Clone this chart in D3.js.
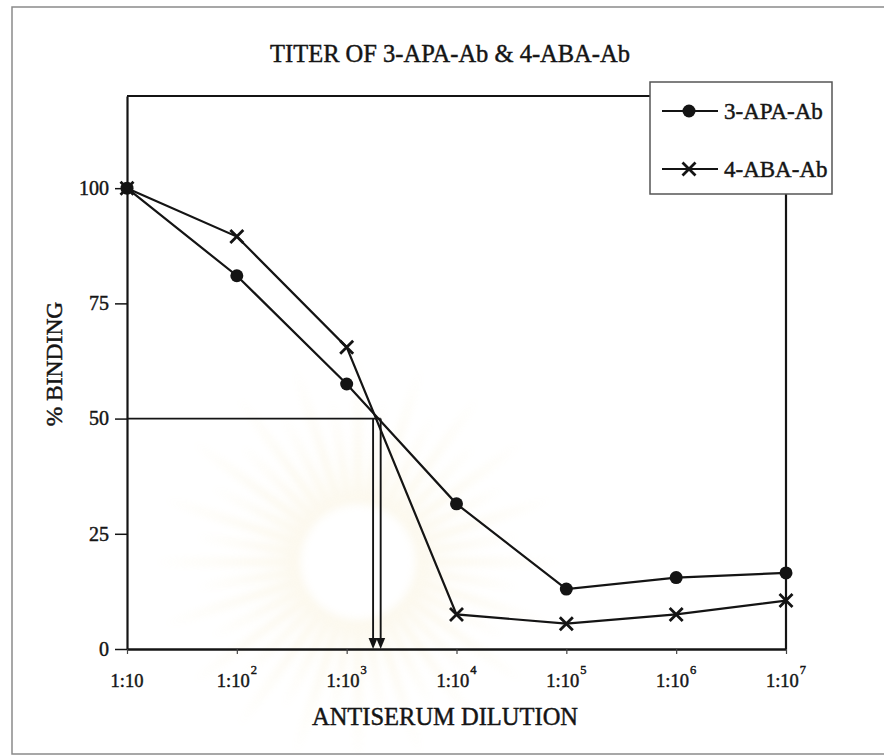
<!DOCTYPE html>
<html>
<head>
<meta charset="utf-8">
<script src="https://cdn.jsdelivr.net/npm/d3@7"></script>
<style>
  html, body { margin: 0; padding: 0; background: #fff; }
  svg { display: block; }
  text { font-family: "Liberation Serif", "Times New Roman", serif; fill: #151515; stroke: #151515; stroke-width: 0.45px; }
</style>
</head>
<body>
<svg id="chart" width="884" height="756"></svg>
<script>
// Antiserum dilution factors (1:10 ... 1:10^7)
const dilutions = [1e1, 1e2, 1e3, 1e4, 1e5, 1e6, 1e7];
const dilutionExponents = ["", "2", "3", "4", "5", "6", "7"];
// % binding for each antiserum
const apaBinding = [100, 81, 57.5, 31.5, 13, 15.5, 16.5];
const abaBinding = [100, 89.5, 65.5, 7.5, 5.5, 7.5, 10.5];
// Titers read at 50 % binding (dilution factors)
const titerDilutions = [1740, 2040];
const halfBinding = 50;
const yTicks = [0, 25, 50, 75, 100];
const seriesNames = ["3-APA-Ab", "4-ABA-Ab"];

const svg = d3.select("#chart");
const ink = "#141414";

// Faint sunburst emblem printed behind the plot
const defs = svg.append("defs");
defs.append("filter").attr("id", "soft")
  .append("feGaussianBlur").attr("stdDeviation", 4);
const emblem = svg.append("g")
  .attr("transform", "translate(358,562)")
  .attr("filter", "url(#soft)")
  .attr("opacity", 0.32);
const rays = d3.range(40);
emblem.selectAll("path.ray").data(rays).join("path")
  .attr("class", "ray")
  .attr("d", i => {
    const a = (i / rays.length) * 2 * Math.PI;
    const w = 0.05;
    const r0 = 58, r1 = i % 2 ? 165 : 205;
    const p = (r, t) => [r * Math.cos(t), r * Math.sin(t)];
    const [x0, y0] = p(r0, a - w), [x1, y1] = p(r1, a), [x2, y2] = p(r0, a + w);
    return `M${x0},${y0}L${x1},${y1}L${x2},${y2}Z`;
  })
  .attr("fill", "#efdca0");

// Outer page frame
svg.append("path")
  .attr("d", "M884,7H12V754H884")
  .attr("fill", "none").attr("stroke", "#8a8a8a").attr("stroke-width", 1.5);

// Scales
const x = d3.scaleLog().domain([1e1, 1e7]).range([127, 786]);
const y = d3.scaleLinear().domain([0, 120]).range([649, 96]);

// Title
svg.append("text")
  .attr("x", 450).attr("y", 62)
  .attr("text-anchor", "middle")
  .attr("font-size", 24.5)
  .text("TITER OF 3-APA-Ab & 4-ABA-Ab");

// Y axis (left edge of plot frame)
const yAxis = svg.append("g")
  .attr("transform", `translate(${x.range()[0]},0)`)
  .call(d3.axisLeft(y).tickValues(yTicks).tickSizeInner(12).tickSizeOuter(0).tickPadding(6));
yAxis.select(".domain").attr("stroke", ink).attr("stroke-width", 2.2);
yAxis.selectAll(".tick line").attr("stroke", ink).attr("stroke-width", 1.5);
yAxis.selectAll(".tick text")
  .attr("font-size", 20).attr("font-family", "Liberation Serif").attr("fill", ink);

// X axis with 1:10^n labels
const xAxis = svg.append("g")
  .attr("transform", `translate(0,${y(0)})`)
  .call(d3.axisBottom(x).tickValues(dilutions).tickSizeInner(5).tickSizeOuter(0)
    .tickFormat(() => ""));
xAxis.select(".domain").attr("stroke", ink).attr("stroke-width", 2.6);
xAxis.selectAll(".tick line").attr("stroke", "#444").attr("stroke-width", 1.2);
xAxis.selectAll(".tick text").remove();
const xLabels = svg.append("g").selectAll("text").data(dilutions).join("text")
  .attr("x", d => x(d))
  .attr("y", 687)
  .attr("font-size", 18.5)
  .attr("text-anchor", "middle");
xLabels.append("tspan").text("1:10");
xLabels.append("tspan")
  .attr("font-size", 12.5)
  .attr("dx", 1)
  .attr("dy", -13)
  .text((d, i) => dilutionExponents[i]);

// Axis titles
svg.append("text")
  .attr("x", 445).attr("y", 725)
  .attr("text-anchor", "middle")
  .attr("font-size", 24.5)
  .text("ANTISERUM DILUTION");
svg.append("text")
  .attr("transform", "translate(62,364) rotate(-90)")
  .attr("text-anchor", "middle")
  .attr("font-size", 23.5)
  .text("% BINDING");

// Legend box and remaining frame sides
const legend = { x0: 650, x1: 832, y0: 82, y1: 194 };
svg.append("path")
  .attr("d", `M${x.range()[0]},${y.range()[1]}H${legend.x0}`)
  .attr("stroke", ink).attr("stroke-width", 2.2).attr("fill", "none");
svg.append("path")
  .attr("d", `M${x.range()[1]},${legend.y1}V${y(0)}`)
  .attr("stroke", ink).attr("stroke-width", 2.2).attr("fill", "none");
svg.append("rect")
  .attr("x", legend.x0).attr("y", legend.y0)
  .attr("width", legend.x1 - legend.x0).attr("height", legend.y1 - legend.y0)
  .attr("fill", "#fff").attr("stroke", "#555").attr("stroke-width", 1.5);

// 50 % binding guide and titer arrows
svg.append("line")
  .attr("x1", x.range()[0]).attr("x2", x(d3.max(titerDilutions)))
  .attr("y1", y(halfBinding)).attr("y2", y(halfBinding))
  .attr("stroke", ink).attr("stroke-width", 1.7);
const arrows = svg.append("g").selectAll("g").data(titerDilutions).join("g");
arrows.append("line")
  .attr("x1", d => x(d)).attr("x2", d => x(d))
  .attr("y1", y(halfBinding)).attr("y2", y(0) - 8)
  .attr("stroke", ink).attr("stroke-width", 1.9);
arrows.append("path")
  .attr("d", d => `M${x(d) - 4.5},${y(0) - 11}L${x(d) + 4.5},${y(0) - 11}L${x(d)},${y(0)}Z`)
  .attr("fill", ink);

// Series lines and markers
const line = d3.line().x(d => x(d[0])).y(d => y(d[1]));
const apaPts = dilutions.map((d, i) => [d, apaBinding[i]]);
const abaPts = dilutions.map((d, i) => [d, abaBinding[i]]);

svg.append("path").datum(apaPts).attr("d", line)
  .attr("fill", "none").attr("stroke", ink).attr("stroke-width", 2.2);
svg.append("path").datum(abaPts).attr("d", line)
  .attr("fill", "none").attr("stroke", ink).attr("stroke-width", 2.2);

const crossPath = s => `M${-s},${-s}L${s},${s}M${-s},${s}L${s},${-s}`;

svg.append("g").selectAll("circle").data(apaPts).join("circle")
  .attr("cx", d => x(d[0])).attr("cy", d => y(d[1]))
  .attr("r", 6.5).attr("fill", ink);
svg.append("g").selectAll("path").data(abaPts).join("path")
  .attr("transform", d => `translate(${x(d[0])},${y(d[1])})`)
  .attr("d", crossPath(6.5))
  .attr("stroke", ink).attr("stroke-width", 2.8).attr("fill", "none");

// Legend entries
const rows = [111, 169];
rows.forEach((ry, i) => {
  svg.append("line").attr("x1", 662).attr("x2", 718).attr("y1", ry).attr("y2", ry)
    .attr("stroke", ink).attr("stroke-width", 2);
  if (i === 0) {
    svg.append("circle").attr("cx", 689).attr("cy", ry).attr("r", 6.5).attr("fill", ink);
  } else {
    svg.append("path").attr("transform", `translate(689,${ry})`).attr("d", crossPath(6.5))
      .attr("stroke", ink).attr("stroke-width", 2.8).attr("fill", "none");
  }
  svg.append("text").attr("x", 724).attr("y", ry + 8)
    .attr("font-size", 23).text(seriesNames[i]);
});
</script>
</body>
</html>
